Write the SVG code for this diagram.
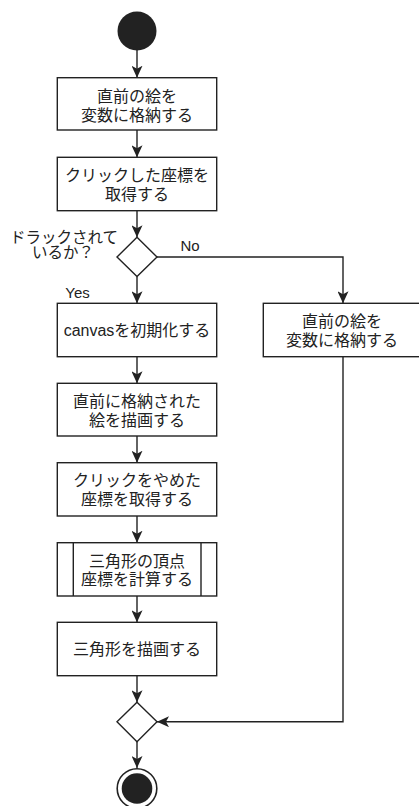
<svg xmlns="http://www.w3.org/2000/svg" width="419" height="806" viewBox="0 0 419 806">
<style>
.box{fill:#fff;stroke:#222;stroke-width:1.4}
.line{fill:none;stroke:#222;stroke-width:1.4}
text{font-family:"Liberation Sans","Noto Sans CJK JP",sans-serif;font-size:16px;fill:#222;text-anchor:middle;dominant-baseline:central}
.lbl{font-size:15px}
.q{font-size:15.5px}
</style>
<defs>
<marker id="arr" viewBox="0 0 12 11" refX="12" refY="5.5" markerWidth="12" markerHeight="11" markerUnits="userSpaceOnUse" orient="auto">
<path d="M0,0 L12,5.5 L0,11 L3,5.5 z" fill="#222"/>
</marker>
</defs>
<rect width="419" height="806" fill="#fff"/>
<g id="connectors" class="line" marker-end="url(#arr)">
<path d="M137,50 V77.7"/>
<path d="M137,130 V157.3"/>
<path d="M137,210.7 V237.3"/>
<path d="M137,276.5 V303.3"/>
<path d="M157,257 H343 V303.3"/>
<path d="M137,356.7 V383.3"/>
<path d="M137,436 V462.7"/>
<path d="M137,516 V542.7"/>
<path d="M137,596 V622.3"/>
<path d="M137,675.7 V702.3"/>
<path d="M343,356.7 V721.7 H157"/>
<path d="M137,741.7 V768"/>
</g>
<g id="start"><circle cx="137" cy="31" r="19.5" fill="#222"/></g>
<g id="box1"><rect class="box" x="57.3" y="77.7" width="159.4" height="52.3"/>
<text x="137" y="96.5">直前の絵を</text><text x="137" y="115">変数に格納する</text></g>
<g id="box2"><rect class="box" x="57.3" y="157.3" width="159.4" height="53.4"/>
<text x="137" y="175">クリックした座標を</text><text x="137" y="194">取得する</text></g>
<g id="decision1"><path class="box" d="M137,237.3 L157,257 L137,276.5 L117,257 Z"/>
<text class="q" x="64" y="237">ドラックされて</text><text class="q" x="63" y="252.5">いるか？</text>
<text class="lbl" x="190" y="245">No</text><text class="lbl" x="77.5" y="292">Yes</text></g>
<g id="boxR"><rect class="box" x="263.3" y="303.3" width="160" height="53.4"/>
<text x="342" y="321">直前の絵を</text><text x="342" y="340">変数に格納する</text></g>
<g id="box3"><rect class="box" x="57.3" y="303.3" width="159.4" height="53.4"/>
<text x="137" y="330.7">canvasを初期化する</text></g>
<g id="box4"><rect class="box" x="57.3" y="383.3" width="159.4" height="52.7"/>
<text x="137" y="401.7">直前に格納された</text><text x="137" y="420.3">絵を描画する</text></g>
<g id="box5"><rect class="box" x="57.3" y="462.7" width="159.4" height="53.3"/>
<text x="137" y="480.5">クリックをやめた</text><text x="137" y="499.5">座標を取得する</text></g>
<g id="box6"><rect class="box" x="57.3" y="542.7" width="159.4" height="53.3"/>
<path class="line" d="M73.3,542.7 V596 M201,542.7 V596"/>
<text x="137" y="561.7">三角形の頂点</text><text x="137" y="579.5">座標を計算する</text></g>
<g id="box7"><rect class="box" x="57.3" y="622.3" width="159.4" height="53.4"/>
<text x="137" y="649">三角形を描画する</text></g>
<g id="decision2"><path class="box" d="M137,702.3 L157,721.7 L137,741.7 L117,721.7 Z"/></g>
<g id="end"><circle cx="137" cy="788.5" r="19.8" fill="#fff" stroke="#222" stroke-width="1.6"/><circle cx="137" cy="788.5" r="15.3" fill="#222"/></g>
</svg>
